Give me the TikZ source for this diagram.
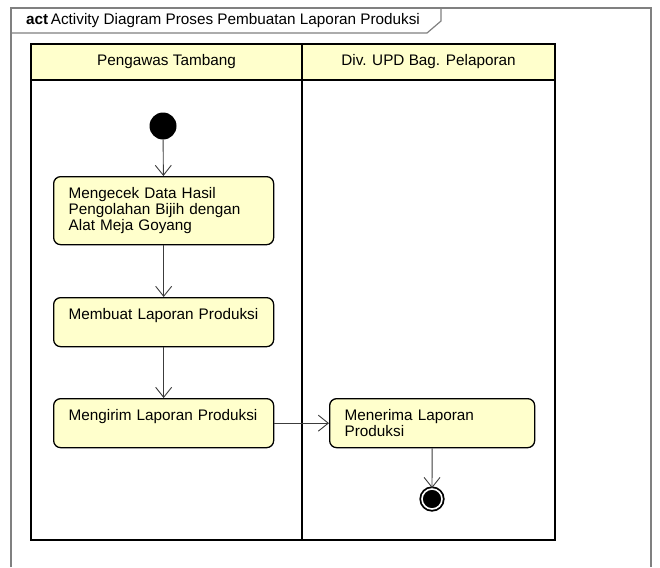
\documentclass[tikz,border=0pt]{standalone}
\usepackage{fontspec}
\setmainfont{Liberation Sans}
\usetikzlibrary{arrows.meta,positioning}
\definecolor{actyellow}{RGB}{255,255,204}
\definecolor{flowgray}{RGB}{60,60,60}

\begin{document}
\begin{tikzpicture}[x=1pt,y=-1pt,>={Straight Barb[length=10pt,width=16pt]},
            font=\fontsize{15.3pt}{16pt}\selectfont,
            action/.style={draw,rounded corners=7pt,fill=actyellow,line width=1.3pt,
                anchor=north west,align=left,inner xsep=15pt,inner ysep=6pt,
                text height=16pt,text depth=21pt},
            flow/.style={->,draw=flowgray,line width=0.9pt},
            initial/.style={circle,fill=black,minimum size=27pt,inner sep=0pt},
            final/.style={circle,draw=black,fill=black,line width=1.8pt,double=white,
                double distance=1.6pt,minimum size=20pt,inner sep=0pt}]
            \useasboundingbox (0,0) rectangle (660,567);

            % frame and title tab
            \draw[gray,line width=1.2pt] (11,567) -- (11,8) -- (651,8) -- (651,567);
            \draw[gray,line width=1.2pt] (11,33) -- (427,33) -- (441,21) -- (441,8);
            \node[anchor=west,inner sep=0pt] (title) at (26,21)
                {\textbf{act}\,Activity Diagram Proses Pembuatan Laporan Produksi};

            % swimlanes
            \draw[line width=2.2pt,fill=actyellow] (31,44) rectangle (555,80);
            \draw[line width=2.2pt] (31,80) rectangle (555,540);
            \draw[line width=2.2pt] (302,44) -- (302,540);
            \node (laneA) at (166.5,62) {Pengawas Tambang};
            \node (laneB) at (428.5,62) {Div. UPD Bag. Pelaporan};

            \node[initial] (start) at (163,126) {};
            \node[action,text width=190pt,text depth=40pt] (chk) at (53,176)
                {Mengecek Data Hasil\\Pengolahan Bijih dengan\\Alat Meja Goyang};
            \node[action,text width=190pt] (mkl) at (53,297) {Membuat Laporan Produksi};
            \node[action,text width=190pt] (snd) at (53,398) {Mengirim Laporan Produksi};
            \node[action,text width=175pt] (rcv) at (329,398) {Menerima Laporan\\Produksi};
            \node[final] (stop) at (432,499) {};

            \path (start) edge[flow] (chk)
                  (chk) edge[flow] (mkl)
                  (mkl) edge[flow] (snd)
                  (snd) edge[flow] (rcv)
                  (rcv) edge[flow] (stop);
        \end{tikzpicture}
\end{document}
